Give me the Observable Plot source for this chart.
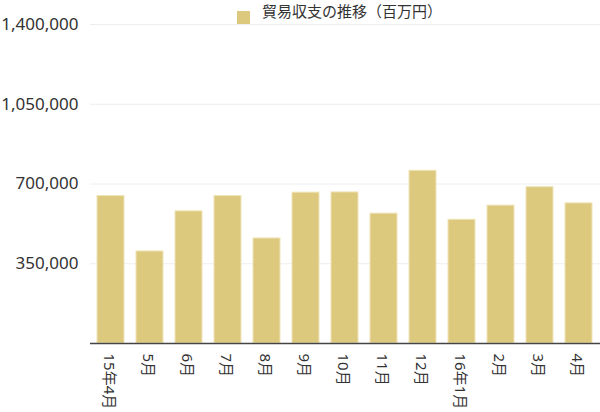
<!DOCTYPE html>
<html><head><meta charset="utf-8">
<script src="https://cdn.jsdelivr.net/npm/d3@7"></script>
<script src="https://cdn.jsdelivr.net/npm/@observablehq/plot@0.6"></script>
<style>
body{margin:0;background:#fff;font-family:"Noto Sans","Noto Sans CJK JP",sans-serif;}
#wrap{position:relative;width:600px;height:412px;}
#legend{position:absolute;left:237px;top:0px;height:26px;display:flex;align-items:flex-start;font-size:15px;color:#333;font-family:"Noto Sans CJK JP",sans-serif;}
#legend .sw{width:13px;height:13px;background:#dcc97e;margin-top:11px;margin-right:12px;}
#legend .lb{line-height:22px;}
</style>
</head><body>
<div id="wrap"><div id="legend"><div class="sw"></div><div class="lb">貿易収支の推移（百万円）</div></div><div id="chart"></div></div>
<script>
const months = ["15年4月","5月","6月","7月","8月","9月","10月","11月","12月","16年1月","2月","3月","4月"];
const values = [647000,404000,580000,647000,461000,662000,663000,570000,758000,543000,605000,686000,615000];
const yTicks = [350000,700000,1050000,1400000];
const data = months.map((m,i)=>({month:m,value:values[i]}));
const fmt = d3.format(",");
const chart = Plot.plot({
  width:600, height:412,
  marginLeft:90, marginRight:0, marginTop:24, marginBottom:69,
  style:{fontFamily:'"Noto Sans","Noto Sans CJK JP",sans-serif', color:"#333", background:"#fff"},
  x:{domain:months, paddingInner:0.3, paddingOuter:0.15, label:null},
  y:{domain:[0,1400000], label:null},
  marks:[
    Plot.gridY(yTicks,{stroke:"#eeeeee", strokeOpacity:1}),
    Plot.barY(data,{x:"month", y:"value", fill:"#dcc97e", stroke:"#efe4b8", strokeWidth:1}),
    Plot.ruleY([0],{stroke:"#444", strokeWidth:1.5}),
    Plot.axisY({ticks:yTicks, tickSize:0, tickPadding:12, tickFormat:fmt, fontSize:17, fill:"#333"}),
    Plot.axisX({tickSize:0, tickPadding:10, tickRotate:90, fontSize:15, fill:"#333", dx:-2})
  ]
});
document.getElementById("chart").appendChild(chart);
</script>
</body></html>
